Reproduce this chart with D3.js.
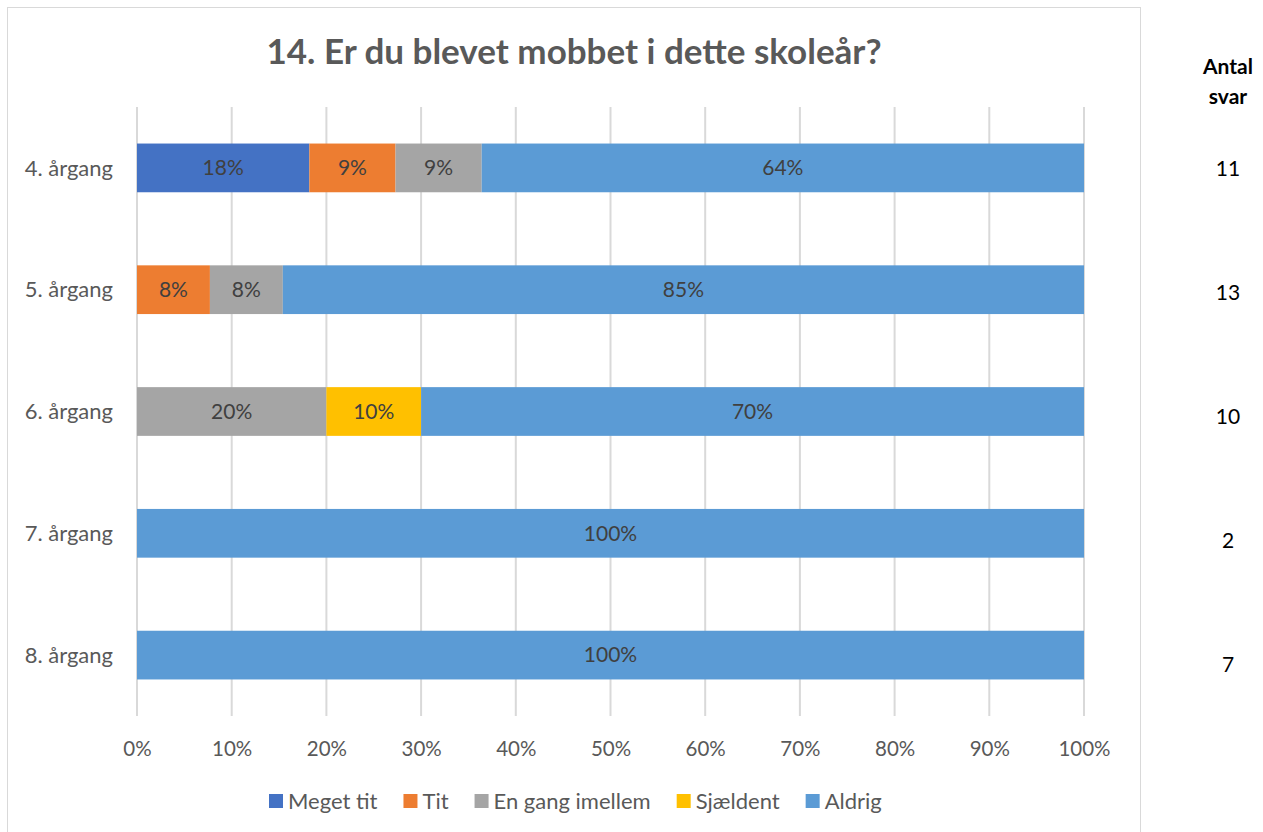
<!DOCTYPE html>
<html>
<head>
<meta charset="utf-8">
<script src="https://cdn.jsdelivr.net/npm/d3@7"></script>
<style>
  body { margin: 0; background: #fff; }
  svg { display: block; font-family: Lato, "Open Sans", sans-serif; }
</style>
</head>
<body>
<svg id="chart" width="1263" height="832"></svg>
<script>
// data (share of answers, %)
const grades = ["4. årgang", "5. årgang", "6. årgang", "7. årgang", "8. årgang"];
const series = ["Meget tit", "Tit", "En gang imellem", "Sjældent", "Aldrig"];
const colors = ["#4472c4", "#ed7d31", "#a5a5a5", "#ffc000", "#5b9bd5"];
const megetTit = [18.2, 0, 0, 0, 0];
const tit = [9.1, 7.7, 0, 0, 0];
const enGang = [9.1, 7.7, 20, 0, 0];
const sjaeldent = [0, 0, 10, 0, 0];
const aldrig = [63.6, 84.6, 70, 100, 100];
const antalSvar = [11, 13, 10, 2, 7];
const xTicks = [0, 10, 20, 30, 40, 50, 60, 70, 80, 90, 100];

const values = [megetTit, tit, enGang, sjaeldent, aldrig];

const svg = d3.select("#chart");

// chart frame
svg.append("rect")
  .attr("x", 7.5).attr("y", 7.5)
  .attr("width", 1133).attr("height", 840)
  .attr("fill", "none")
  .attr("stroke", "#d9d9d9")
  .attr("stroke-width", 1);

var x = d3.scaleLinear().domain([0, 100]).range([137, 1084]);
var y = d3.scaleBand().domain(grades).range([107, 716]).paddingInner(0.6).paddingOuter(0.3);

// title
svg.append("text")
  .attr("x", 574).attr("y", 64)
  .attr("text-anchor", "middle")
  .attr("fill", "#595959")
  .attr("font-size", "35px")
  .attr("font-weight", "bold")
  .text("14. Er du blevet mobbet i dette skoleår?");

// vertical gridlines
svg.append("g")
  .selectAll("line")
  .data(xTicks)
  .enter()
  .append("line")
  .attr("x1", d => x(d)).attr("x2", d => x(d))
  .attr("y1", 107).attr("y2", 716)
  .attr("stroke", "#d9d9d9")
  .attr("stroke-width", 2);

// x axis labels
var xAxis = svg.append("g")
  .attr("transform", "translate(0,716)")
  .call(d3.axisBottom(x).tickValues(xTicks).tickSize(0).tickPadding(0).tickFormat(d => d + "%"));
xAxis.select(".domain").remove();
xAxis.selectAll("text")
  .attr("y", 40)
  .attr("dy", null)
  .attr("fill", "#595959")
  .attr("font-size", "20.5px")
  .attr("font-family", "Lato, sans-serif");

// y axis labels
var yAxis = svg.append("g")
  .attr("transform", "translate(113,0)")
  .call(d3.axisLeft(y).tickSize(0).tickPadding(0));
yAxis.select(".domain").remove();
yAxis.selectAll("text")
  .attr("dy", "0.35em")
  .attr("fill", "#595959")
  .attr("font-size", "22px")
  .attr("font-family", "Lato, sans-serif");

// stacked bars
var rows = grades.map((g, i) => {
  var row = { grade: g };
  series.forEach((s, j) => { row[s] = values[j][i]; });
  return row;
});
var stacked = d3.stack().keys(series)(rows);

var layers = svg.append("g")
  .selectAll("g")
  .data(stacked)
  .enter()
  .append("g")
  .attr("fill", (d, i) => colors[i]);

layers.selectAll("rect")
  .data(d => d)
  .enter()
  .append("rect")
  .attr("x", d => x(d[0]))
  .attr("y", d => y(d.data.grade))
  .attr("width", d => x(d[1]) - x(d[0]))
  .attr("height", y.bandwidth());

layers.selectAll("text")
  .data(d => d.filter(p => p[1] - p[0] > 0))
  .enter()
  .append("text")
  .attr("x", d => (x(d[0]) + x(d[1])) / 2)
  .attr("y", d => y(d.data.grade) + y.bandwidth() / 2)
  .attr("dy", "0.35em")
  .attr("text-anchor", "middle")
  .attr("fill", "#404040")
  .attr("font-size", "21px")
  .text(d => Math.round(d[1] - d[0]) + "%");

// Antal svar column
svg.append("text")
  .attr("x", 1228).attr("y", 74)
  .attr("text-anchor", "middle")
  .attr("font-weight", "bold")
  .attr("font-size", "21px")
  .attr("fill", "#000")
  .text("Antal");
svg.append("text")
  .attr("x", 1228).attr("y", 104)
  .attr("text-anchor", "middle")
  .attr("font-weight", "bold")
  .attr("font-size", "21px")
  .attr("fill", "#000")
  .text("svar");

var countY = d3.scalePoint().domain(grades).range([169, 665]);
svg.append("g")
  .selectAll("text")
  .data(grades)
  .enter()
  .append("text")
  .attr("x", 1228)
  .attr("y", d => countY(d))
  .attr("dy", "0.35em")
  .attr("text-anchor", "middle")
  .attr("font-size", "21px")
  .attr("fill", "#000")
  .text((d, i) => antalSvar[i]);

// legend
var legend = svg.append("g").attr("transform", "translate(0,801)");
var lx = 269;
series.forEach((s, i) => {
  legend.append("rect")
    .attr("x", lx).attr("y", -7)
    .attr("width", 14).attr("height", 14)
    .attr("fill", colors[i]);
  var t = legend.append("text")
    .attr("x", lx + 19).attr("y", 0)
    .attr("dy", "0.35em")
    .attr("fill", "#595959")
    .attr("font-size", "22px")
    .text(s);
  lx += 19 + t.node().getComputedTextLength() + 26;
});
</script>
</body>
</html>
